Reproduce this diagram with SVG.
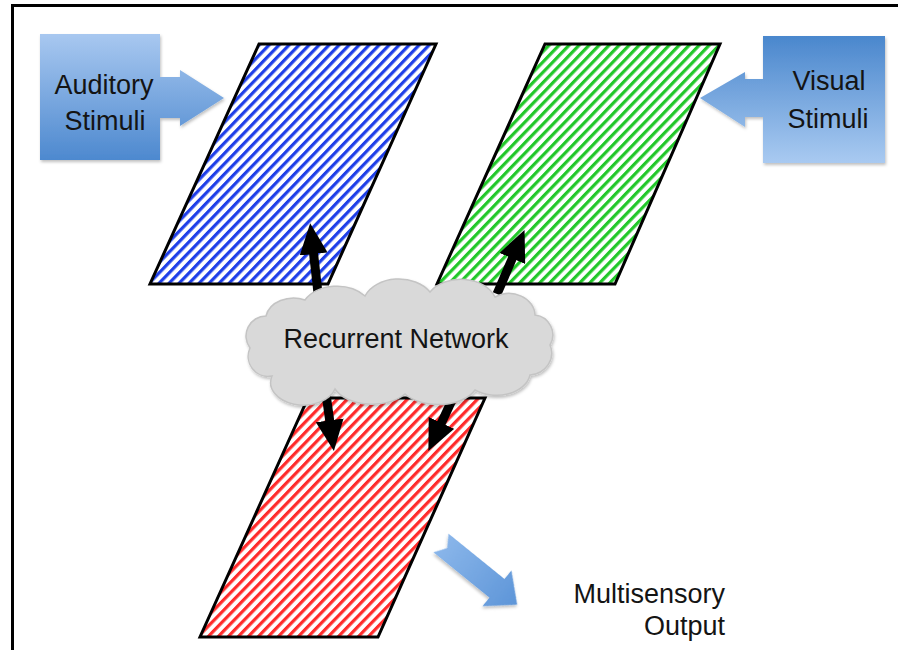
<svg xmlns="http://www.w3.org/2000/svg" width="898" height="650" viewBox="0 0 898 650">
<style>
.lbl{font-family:"Liberation Sans",Arial,sans-serif;font-size:27px;fill:#141414}
.para{stroke:#000;stroke-width:3;stroke-linejoin:miter}
.conn{stroke:#000;stroke-width:9;fill:none;marker-end:url(#head)}
</style>
<defs>
<pattern id="pBlue" patternUnits="userSpaceOnUse" width="7.2" height="20" patternTransform="rotate(44)">
<rect width="7.2" height="20" fill="#fff"/><rect width="3.2" height="20" fill="#1f3fe8"/>
</pattern>
<pattern id="pGreen" patternUnits="userSpaceOnUse" width="7.2" height="20" patternTransform="rotate(44)">
<rect width="7.2" height="20" fill="#fff"/><rect width="3.2" height="20" fill="#22c82a"/>
</pattern>
<pattern id="pRed" patternUnits="userSpaceOnUse" width="7.2" height="20" patternTransform="rotate(44)">
<rect width="7.2" height="20" fill="#fff"/><rect width="3.2" height="20" fill="#ff2b2b"/>
</pattern>
<linearGradient id="gAud" x1="0" y1="0" x2="0" y2="1">
<stop offset="0" stop-color="#a8c8f0"/><stop offset="1" stop-color="#4d89cf"/>
</linearGradient>
<linearGradient id="gVis" x1="0" y1="0" x2="0" y2="1">
<stop offset="0" stop-color="#4a87cd"/><stop offset="1" stop-color="#a9caf1"/>
</linearGradient>
<linearGradient id="gOut" x1="0" y1="0" x2="1" y2="0">
<stop offset="0" stop-color="#8ab6ea"/><stop offset="1" stop-color="#5d95d8"/>
</linearGradient>
<filter id="sh" x="-10%" y="-10%" width="130%" height="130%">
<feDropShadow dx="1" dy="2" stdDeviation="1.5" flood-color="#000" flood-opacity="0.25"/>
</filter>
<marker id="head" markerUnits="userSpaceOnUse" viewBox="0 -14 31 28" markerWidth="31" markerHeight="28" refX="1" refY="0" orient="auto">
<path d="M0,-14 L31,0 L0,14 Z" fill="#000"/>
</marker>
</defs>
<rect width="898" height="650" fill="#fff"/>
<rect id="frame" x="12.5" y="5.5" width="900" height="700" fill="none" stroke="#000" stroke-width="3"/>

<g id="auditory">
<path d="M40,34 H160 V77 H180 V70 L224,98 L180,126 V118 H160 V160 H40 Z" fill="url(#gAud)" filter="url(#sh)"/>
<text class="lbl" x="104" y="94" text-anchor="middle">Auditory</text>
<text class="lbl" x="105" y="130" text-anchor="middle">Stimuli</text>
</g>

<g id="visual">
<path d="M763,36 H885 V163 H763 V117 H745 V127 L700,98 L745,72 V79 H763 Z" fill="url(#gVis)" filter="url(#sh)"/>
<text class="lbl" x="829" y="90" text-anchor="middle">Visual</text>
<text class="lbl" x="828" y="128" text-anchor="middle">Stimuli</text>
</g>

<g id="blue-layer">
<path class="para" d="M259,44 L436,44 L328,284 L150,284 Z" fill="url(#pBlue)"/>
</g>
<g id="green-layer">
<path class="para" d="M545,44 L720,44 L615,284 L437,284 Z" fill="url(#pGreen)"/>
</g>
<g id="red-layer">
<path class="para" d="M308,398 L485,398 L378,637 L200,637 Z" fill="url(#pRed)"/>
</g>

<g id="connectors">
<line class="conn" x1="319" y1="302" x2="313.5" y2="253"/>
<line class="conn" x1="497" y1="294" x2="512.7" y2="257.5"/>
<line class="conn" x1="323" y1="372" x2="329.8" y2="421.3"/>
<line class="conn" x1="465" y1="372" x2="441" y2="423.8"/>
</g>

<g id="recurrent-network">
<path d="M250,348 A20,20 0 0 1 266,316 A28,22 0 0 1 305,300 A36,26 0 0 1 365,296 A36,26 0 0 1 430,292 A36,26 0 0 1 495,297 A26,22 0 0 1 535,315 A20,20 0 0 1 550,345 A24,22 0 0 1 530,375 A34,24 0 0 1 475,390 A40,24 0 0 1 405,394 A40,24 0 0 1 335,389 A32,22 0 0 1 272,376 A20,20 0 0 1 250,348 Z" fill="#d9d9d9" stroke="#c4c4c4" stroke-width="1.5" filter="url(#sh)"/>
<text class="lbl" x="396" y="348" text-anchor="middle">Recurrent Network</text>
</g>

<g id="output">
<path d="M0,-12 L72,-12 L72,-23 L98,0 L72,23 L72,12 L0,12 L8,0 Z" transform="translate(441,543) rotate(39)" fill="url(#gOut)" filter="url(#sh)"/>
<text class="lbl" x="725" y="603" text-anchor="end">Multisensory</text>
<text class="lbl" x="725" y="635" text-anchor="end">Output</text>
</g>
</svg>
